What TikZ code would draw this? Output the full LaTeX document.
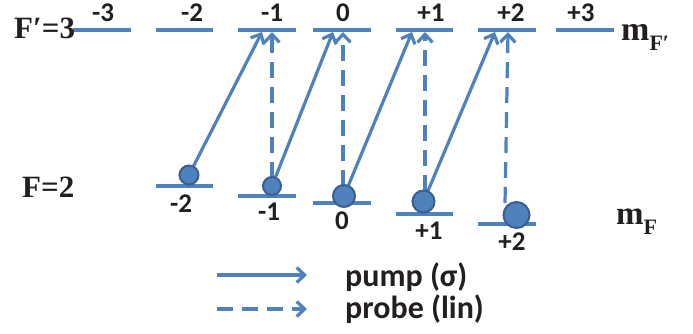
\documentclass[tikz,border=0pt]{standalone}
\usepackage{fontspec}
\setmainfont{Carlito}
\newfontfamily\serifb{Liberation Serif}
\usetikzlibrary{arrows.meta}
\definecolor{lvl}{HTML}{4F81BD}
\definecolor{dotb}{HTML}{3A5F8F}
\definecolor{txt}{HTML}{231F20}
\begin{document}
\begin{tikzpicture}[x=1pt,y=-1pt,
  level/.style={draw=lvl, line width=4pt},
  lbl/.style={font=\fontsize{27}{27}\selectfont\bfseries, text=txt, inner sep=0pt},
  big/.style={font=\serifb\fontsize{31}{31}\selectfont\bfseries, text=txt, inner sep=0pt},
  leg/.style={font=\fontsize{32}{32}\selectfont\bfseries, text=txt, inner sep=0pt, anchor=west},
  atom/.style={circle, fill=lvl, draw=dotb, line width=2pt, inner sep=0pt},
  pump/.style={draw=lvl, line width=3.2pt, -{Straight Barb[length=8pt,width=15pt]}},
  probe/.style={pump, dash pattern=on 16pt off 9pt},
]
\useasboundingbox (0,0) rectangle (693,333);

% upper levels F'=3
\draw[level] (73,30) -- (131,30);
\draw[level] (156,30) -- (213,30);
\draw[level] (238,30) -- (296,30);
\draw[level] (313,30) -- (371,30);
\draw[level] (396,30) -- (453,30);
\draw[level] (478,30) -- (536,30);
\draw[level] (556,30) -- (614,30);

\node[lbl] (um3) at (103,13) {-3};
\node[lbl] (um2) at (192,13) {-2};
\node[lbl] (um1) at (272,13) {-1};
\node[lbl] (u0) at (343,13) {0};
\node[lbl] (up1) at (431,13) {+1};
\node[lbl] (up2) at (511,13) {+2};
\node[lbl] (up3) at (581,13) {+3};

% lower levels F=2
\draw[level] (156,186) -- (213,186);
\draw[level] (238,196) -- (296,196);
\draw[level] (313,203) -- (371,203);
\draw[level] (396,214) -- (453,214);
\draw[level] (478,224) -- (536,224);

\node[lbl] (lm2) at (181,204) {-2};
\node[lbl] (lm1) at (269,212) {-1};
\node[lbl] (l0) at (342,221) {0};
\node[lbl] (lp1) at (429,231) {+1};
\node[lbl] (lp2) at (512,242) {+2};

% targets on upper levels
\coordinate (t1) at (262,32);
\coordinate (t2) at (333,32);
\coordinate (t3) at (412,32);
\coordinate (t4) at (495,32);
\coordinate (d1) at (272,32);
\coordinate (d2) at (343,32);
\coordinate (d3) at (425,32);
\coordinate (d4) at (508,32);
\coordinate (s1) at (272,178);
\coordinate (s2) at (343,186);
\coordinate (s3) at (425,191);
\coordinate (s4) at (505,203);

% arrows
\draw[probe] (s1) -- (d1);
\draw[probe] (s2) -- (d2);
\draw[probe] (s3) -- (d3);
\draw[probe] (s4) -- (d4);

\coordinate (c1) at (189,175);
\coordinate (c2) at (272,186);
\coordinate (c3) at (344,196);
\coordinate (c4) at (423.5,201.5);
\draw[pump] (c1) -- (t1);
\draw[pump] (c2) -- (t2);
\draw[pump] (c3) -- (t3);
\draw[pump] (c4) -- (t4);

% atoms
\node[atom, minimum size=19pt] (am2) at (c1) {};
\node[atom, minimum size=18pt] (am1) at (c2) {};
\node[atom, minimum size=22pt] (a0) at (c3) {};
\node[atom, minimum size=22pt] (ap1) at (c4) {};
\node[atom, minimum size=26pt] (ap2) at (516.5,215) {};

% side labels
\node[big, anchor=west] (Fp) at (14,28) {F′=3};
\node[big, anchor=west] (F) at (22,187) {F=2};
\node[inner sep=0pt, anchor=west, text=txt] (mFp) at (621,37)
  {\serifb\bfseries\fontsize{34}{34}\selectfont m\raisebox{-10pt}{\fontsize{22}{22}\selectfont F′}};
\node[inner sep=0pt, anchor=west, text=txt] (mF) at (616,222)
  {\serifb\bfseries\fontsize{33}{33}\selectfont m\raisebox{-10pt}{\fontsize{22}{22}\selectfont F}};

% legend
\coordinate (ls1) at (217,275);
\coordinate (le1) at (307,275);
\coordinate (ls2) at (217,309);
\coordinate (le2) at (307,309);
\draw[pump] (ls1) -- (le1);
\draw[probe] (ls2) -- (le2);
\node[leg] (lg1) at (345,277) {pump (σ)};
\node[leg] (lg2) at (345,309) {probe (lin)};
\end{tikzpicture}
\end{document}
